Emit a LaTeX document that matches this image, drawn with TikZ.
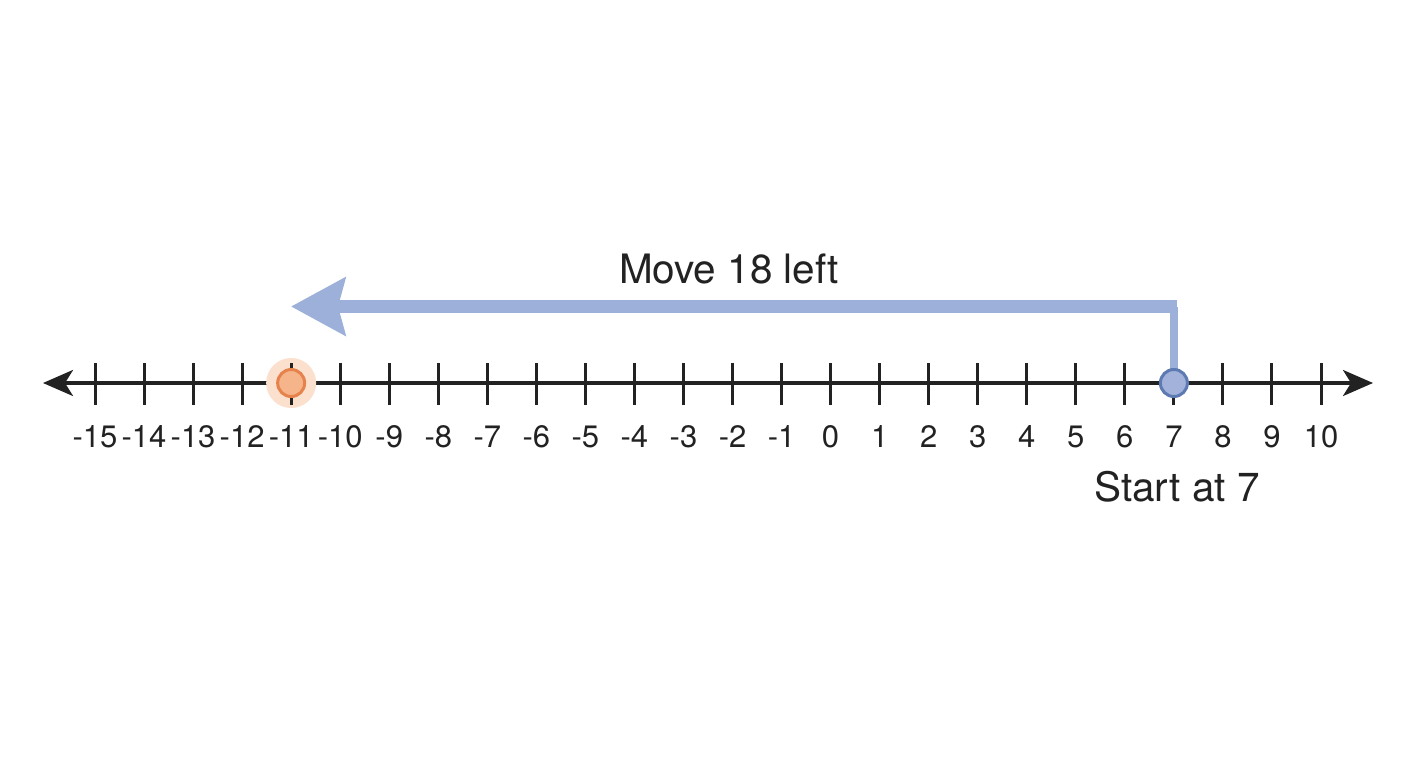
\documentclass[tikz,border=0pt]{standalone}
\usepackage{fontspec}
\setmainfont{TeX Gyre Heros}
\usetikzlibrary{calc,arrows.meta}
\definecolor{axisgray}{HTML}{222222}
\definecolor{moveblue}{HTML}{9DB0D9}
\definecolor{startfill}{HTML}{A2B2DB}
\definecolor{startedge}{HTML}{5D7AB3}
\definecolor{endfill}{HTML}{F6B48B}
\definecolor{endedge}{HTML}{E6834D}
\definecolor{endhalo}{HTML}{FCE0CE}

\begin{document}
\begin{tikzpicture}[x=1pt,y=-1pt,
	axis/.style={axisgray,line width=3.3pt,{Stealth[length=30pt,width=26pt,inset=8pt]}-{Stealth[length=30pt,width=26pt,inset=8pt]}},
	tick/.style={axisgray,line width=3pt},
	numlbl/.style={anchor=base,text=axisgray,inner sep=0pt,font=\fontsize{31}{33}\selectfont},
	biglbl/.style={anchor=base,text=axisgray,inner sep=0pt,font=\fontsize{40.5}{44}\selectfont},
	startpt/.style={circle,fill=startfill,draw=startedge,line width=3pt,minimum size=27pt,inner sep=0pt},
	endpt/.style={circle,fill=endfill,draw=endedge,line width=3pt,minimum size=27pt,inner sep=0pt},
	movestem/.style={moveblue,line width=8pt},
	moveshaft/.style={moveblue,line width=13pt,-{Stealth[length=54pt,width=57pt,inset=7pt]}}]
	\useasboundingbox (0,0) rectangle (1408,768);
	\fill[white] (0,0) rectangle (1408,768);
	% number line
	\coordinate (lend) at (43,383);
	\coordinate (rend) at (1373,383);
	\draw[axis] (lend) -- (rend);
	\fill[endhalo] ({830.6-11*49.04},383) circle (25pt);
	\foreach \n in {-15,...,10}{
		\draw[tick] ({830.6+49.04*\n},363) -- ({830.6+49.04*\n},405);
		\node[numlbl] (lab\n) at ({830.6+49.04*\n},447) {\n};
	}
	% move arrow
	\coordinate (seven) at ({830.6+49.04*7},383);
	\coordinate (corner) at (1177,306.5);
	\coordinate (tip) at (291,306.5);
	\draw[movestem] (seven) -- (seven |- corner);
	\draw[moveshaft] (corner) -- (tip);
	% points
	\node[endpt] (finish) at ({830.6-11*49.04},383) {};
	\node[startpt] (start) at (seven) {};
	\node[biglbl] (movelbl) at (729,283) {Move 18 left};
	\node[biglbl] (startlbl) at (1177,501) {Start at 7};
\end{tikzpicture}
\end{document}
